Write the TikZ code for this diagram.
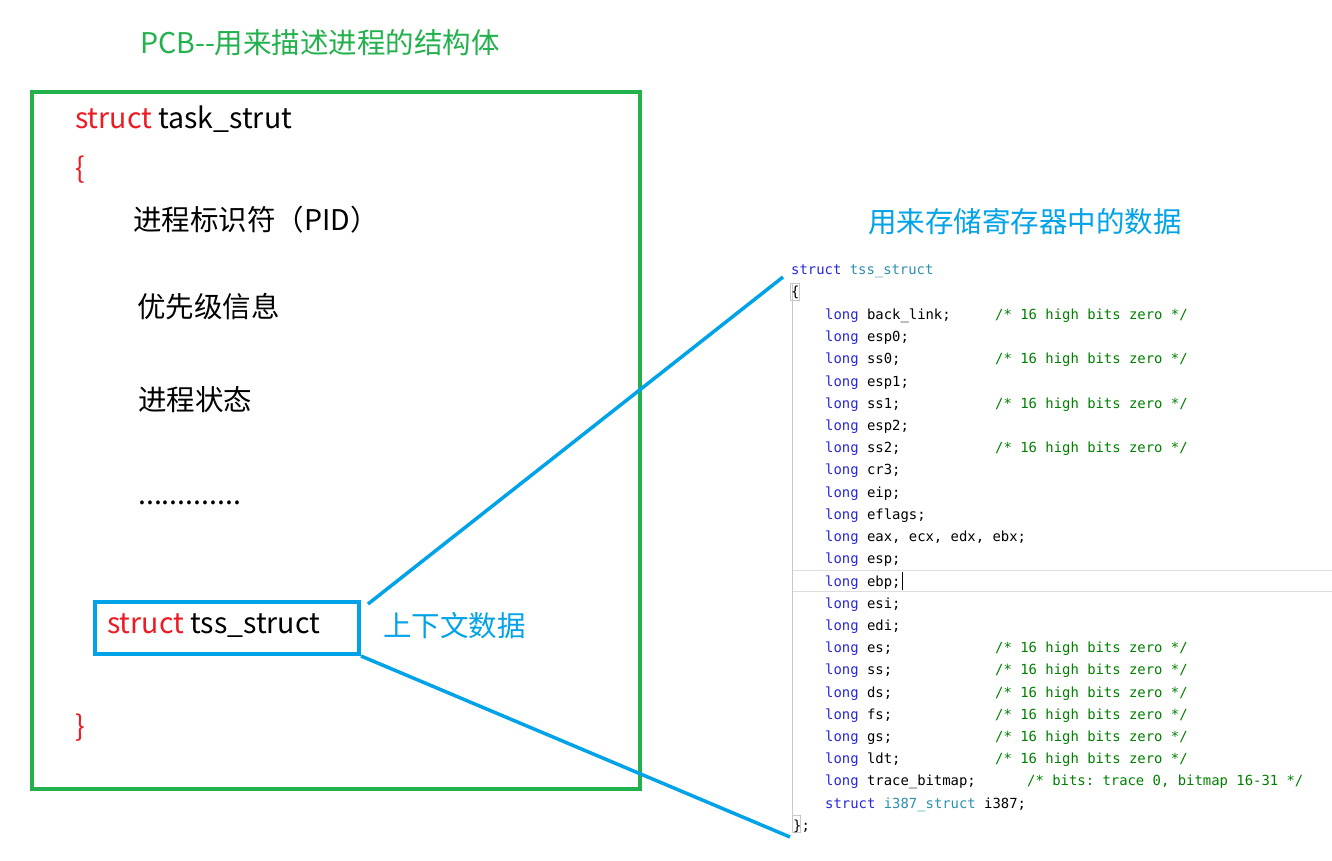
\documentclass[tikz,border=0pt]{standalone}
\usepackage{fontspec}
\setmainfont{Noto Sans CJK SC}
\setmonofont{DejaVu Sans Mono}
\definecolor{pcbgreen}{RGB}{34,177,76}
\definecolor{hlblue}{RGB}{0,162,232}
\definecolor{kwred}{RGB}{237,28,36}
\definecolor{kwblue}{RGB}{40,40,220}
\definecolor{typeteal}{RGB}{43,145,175}
\definecolor{cmtgreen}{RGB}{0,128,0}
\definecolor{guide}{RGB}{200,200,200}
\begin{document}
\begin{tikzpicture}[x=1pt,y=-1pt,
  big/.style={font=\fontsize{28.5}{32}\selectfont, anchor=west, inner sep=0pt},
  code/.style={font=\ttfamily\fontsize{13.9}{16}\selectfont, anchor=base west, inner sep=0pt},
  cmt/.style={code, text=cmtgreen},
  link/.style={draw=hlblue, line width=3.5pt}]
\useasboundingbox (0,0) rectangle (1332,860);
\fill[white] (0,0) rectangle (1332,860);

% ---- left: PCB ----
\node[big, text=pcbgreen] (title) at (140,43) {PCB-{}-用来描述进程的结构体};
\node[draw=pcbgreen, line width=4pt, minimum width=608pt, minimum height=697pt, inner sep=0pt, anchor=north west] (pcb) at (30,90) {};
\node[big] (decl) at (75,119) {\textcolor{kwred}{struct} task\_strut};
\node[big, text=kwred] (lbrace) at (75,170) {\{};
\node[big] (pid) at (133,220) {进程标识符（PID）};
\node[big] (prio) at (137,307) {优先级信息};
\node[big] (state) at (138,400) {进程状态};
\node[big] (dots) at (138,503) {.............};
\node[draw=hlblue, line width=4pt, minimum width=264pt, minimum height=52pt, inner sep=0pt, anchor=north west] (tss) at (93,600) {};
\node[big] (tsstxt) at (107,626) {\textcolor{kwred}{struct} tss\_struct};
\node[big, text=hlblue] (ctx) at (383,626) {上下文数据};
\node[big, text=kwred] (rbrace) at (75,728) {\}};

% ---- right: code panel ----
\node[big, text=hlblue] (rtitle) at (868,222) {用来存储寄存器中的数据};
\coordinate (ptop) at (783,277);
\coordinate (pbot) at (790,837);
\draw[guide, line width=0.8pt] (792,283) -- (792,832);
\draw[guide!60, line width=0.6pt] (793,570) -- (1332,570);
\draw[guide!60, line width=0.6pt] (793,591) -- (1332,591);
\draw[guide, line width=0.6pt] (790,283) rectangle (799,300);
\draw[guide, line width=0.6pt] (792,815) rectangle (800,832);

\node[code] (c0) at (791,274) {\textcolor{kwblue}{struct} \textcolor{typeteal}{tss\_struct}};
\node[code] (c1) at (791,296) {\{};
\node[code] (c2) at (825,319) {\textcolor{kwblue}{long} back\_link;};
\node[cmt] (m2) at (995,319) {/* 16 high bits zero */};
\node[code] (c3) at (825,341) {\textcolor{kwblue}{long} esp0;};
\node[code] (c4) at (825,363) {\textcolor{kwblue}{long} ss0;};
\node[cmt] (m4) at (995,363) {/* 16 high bits zero */};
\node[code] (c5) at (825,386) {\textcolor{kwblue}{long} esp1;};
\node[code] (c6) at (825,408) {\textcolor{kwblue}{long} ss1;};
\node[cmt] (m6) at (995,408) {/* 16 high bits zero */};
\node[code] (c7) at (825,430) {\textcolor{kwblue}{long} esp2;};
\node[code] (c8) at (825,452) {\textcolor{kwblue}{long} ss2;};
\node[cmt] (m8) at (995,452) {/* 16 high bits zero */};
\node[code] (c9) at (825,474) {\textcolor{kwblue}{long} cr3;};
\node[code] (c10) at (825,497) {\textcolor{kwblue}{long} eip;};
\node[code] (c11) at (825,519) {\textcolor{kwblue}{long} eflags;};
\node[code] (c12) at (825,541) {\textcolor{kwblue}{long} eax, ecx, edx, ebx;};
\node[code] (c13) at (825,563) {\textcolor{kwblue}{long} esp;};
\node[code] (c14) at (825,586) {\textcolor{kwblue}{long} ebp;};
\draw[black, line width=1pt] (c14.base east) ++(2,4) -- ++(0,-18);
\node[code] (c15) at (825,608) {\textcolor{kwblue}{long} esi;};
\node[code] (c16) at (825,630) {\textcolor{kwblue}{long} edi;};
\node[code] (c17) at (825,652) {\textcolor{kwblue}{long} es;};
\node[cmt] (m17) at (995,652) {/* 16 high bits zero */};
\node[code] (c18) at (825,674) {\textcolor{kwblue}{long} ss;};
\node[cmt] (m18) at (995,674) {/* 16 high bits zero */};
\node[code] (c19) at (825,697) {\textcolor{kwblue}{long} ds;};
\node[cmt] (m19) at (995,697) {/* 16 high bits zero */};
\node[code] (c20) at (825,719) {\textcolor{kwblue}{long} fs;};
\node[cmt] (m20) at (995,719) {/* 16 high bits zero */};
\node[code] (c21) at (825,741) {\textcolor{kwblue}{long} gs;};
\node[cmt] (m21) at (995,741) {/* 16 high bits zero */};
\node[code] (c22) at (825,763) {\textcolor{kwblue}{long} ldt;};
\node[cmt] (m22) at (995,763) {/* 16 high bits zero */};
\node[code] (c23) at (825,785) {\textcolor{kwblue}{long} trace\_bitmap;};
\node[cmt] (m23) at (1027,785) {/* bits: trace 0, bitmap 16-31 */};
\node[code] (c24) at (825,808) {\textcolor{kwblue}{struct} \textcolor{typeteal}{i387\_struct} i387;};
\node[code] (c25) at (793,830) {\};};

% ---- connectors ----
\draw[link] ([xshift=7pt,yshift=-4pt]tss.north east) -- (ptop);
\draw[link] (tss.south east) -- (pbot);
\end{tikzpicture}
\end{document}
